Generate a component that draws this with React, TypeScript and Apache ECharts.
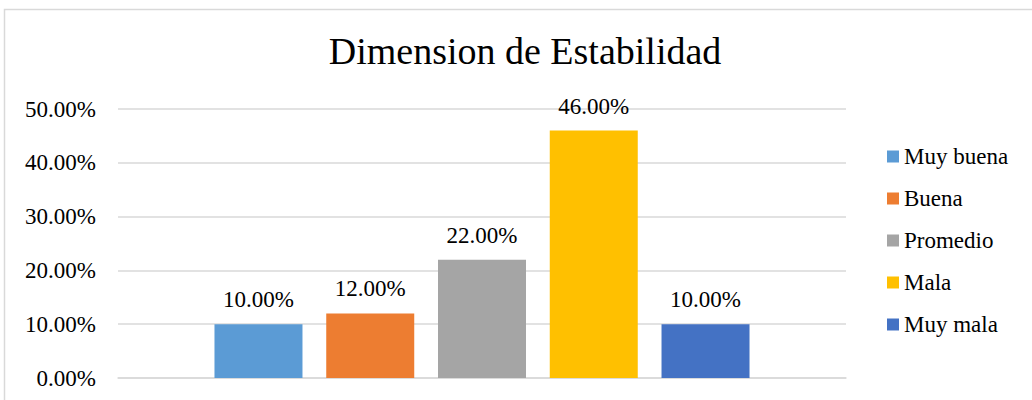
import React, { useEffect, useRef } from "react";
import * as echarts from "echarts";

const categories = [""];
const seriesNames = ["Muy buena", "Buena", "Promedio", "Mala", "Muy mala"];
const seriesValues = [10, 12, 22, 46, 10];
const seriesColors = ["#5B9BD5", "#ED7D31", "#A5A5A5", "#FFC000", "#4472C4"];
const titleText = "Dimension de Estabilidad";

const FONT = "'Liberation Serif', 'Times New Roman', serif";

export default function App() {
  const ref = useRef<HTMLDivElement>(null);
  useEffect(() => {
    if (!ref.current) return;
    const chart = echarts.init(ref.current, undefined, { renderer: "svg" });
    chart.setOption({
      animation: false,
      backgroundColor: "#ffffff",
      title: {
        text: titleText,
        left: 520,
        top: 27,
        textAlign: "center",
        textStyle: { fontFamily: FONT, fontSize: 38, fontWeight: "normal", color: "#000" },
      },
      graphic: [
        {
          type: "rect",
          shape: { x: 4.5, y: 9.5, width: 1100, height: 500 },
          style: { fill: "none", stroke: "#d9d9d9", lineWidth: 1.5 },
          silent: true,
        },
      ],
      legend: {
        orient: "vertical",
        left: 882,
        top: 140,
        itemWidth: 12,
        itemHeight: 12,
        itemGap: 19,
        icon: "rect",
        textStyle: { fontFamily: FONT, fontSize: 23, color: "#000" },
        data: seriesNames,
      },
      grid: { left: 118, right: 186, top: 109, bottom: 22, containLabel: false },
      xAxis: {
        type: "category",
        data: categories,
        axisLine: { show: true, lineStyle: { color: "#d9d9d9", width: 1.5 } },
        axisTick: { show: false },
        axisLabel: { show: false },
      },
      yAxis: {
        type: "value",
        min: 0,
        max: 50,
        interval: 10,
        axisLine: { show: false },
        axisTick: { show: false },
        splitLine: { lineStyle: { color: "#d9d9d9", width: 1.5 } },
        axisLabel: {
          margin: 22,
          fontFamily: FONT,
          fontSize: 23,
          color: "#000",
          formatter: (v: number) => v.toFixed(2) + "%",
        },
      },
      series: seriesNames.map((name, i) => ({
        name,
        type: "bar",
        data: [seriesValues[i]],
        barWidth: 88,
        barGap: "27%",
        itemStyle: { color: seriesColors[i] },
        label: {
          show: true,
          position: "top",
          distance: 13,
          fontFamily: FONT,
          fontSize: 23,
          color: "#000",
          formatter: (p: any) => Number(p.value).toFixed(2) + "%",
        },
      })),
    });
    return () => chart.dispose();
  }, []);
  return (
    <div
      ref={ref}
      style={{ position: "fixed", left: 0, top: 0, width: 1032, height: 400 }}
    />
  );
}
